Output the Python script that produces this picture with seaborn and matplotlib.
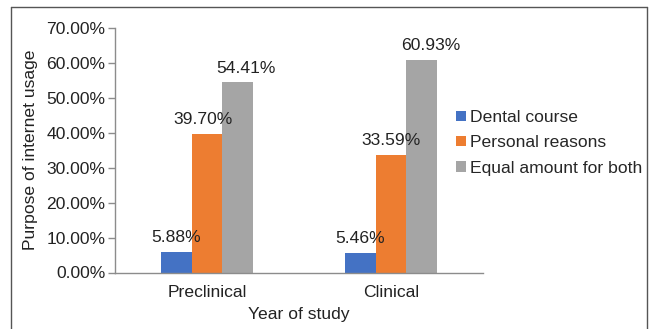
import matplotlib
matplotlib.use("Agg")
import matplotlib.pyplot as plt
from matplotlib.lines import Line2D
import seaborn as sns
import pandas as pd

years = ["Preclinical", "Clinical"]
purposes = ["Dental course", "Personal reasons", "Equal amount for both"]
dental_course = [5.88, 5.46]
personal_reasons = [39.70, 33.59]
equal_both = [54.41, 60.93]
palette = ["#4472C4", "#ED7D31", "#A5A5A5"]
# horizontal nudges (points) of the value labels, per series and year
label_nudge = [[0, 0], [-3, 0], [6, 6]]

rows = []
for series_name, vals in zip(purposes, [dental_course, personal_reasons, equal_both]):
    for yr, v in zip(years, vals):
        rows.append({"Year of study": yr, "Purpose": series_name, "Value": v})
df = pd.DataFrame(rows)

sns.set_style("white")
plt.rcParams["font.family"] = ["Liberation Sans", "DejaVu Sans"]
FS = 12.6

fig = plt.figure(figsize=(6.49, 3.29), dpi=100)
ax = fig.add_axes([115 / 649, 1 - 272.5 / 329, 368 / 649, (272.5 - 28) / 329])

sns.barplot(data=df, x="Year of study", y="Value", hue="Purpose",
            hue_order=purposes, order=years, palette=palette,
            width=0.505, gap=0, saturation=1, errorbar=None,
            linewidth=0, ax=ax)

for cont, nudges in zip(ax.containers, label_nudge):
    texts = ax.bar_label(cont, labels=[f"{v:.2f}%" for v in cont.datavalues],
                         padding=5, fontsize=FS, color="#222222")
    for t, dx in zip(texts, nudges):
        x0, y0 = t.xyann
        t.xyann = (x0 + dx, y0)

ax.set_ylim(0, 70)
ax.set_yticks(range(0, 71, 10))
ax.set_yticklabels([f"{t:.2f}%" for t in range(0, 71, 10)], fontsize=FS, color="#222222")
ax.set_xticklabels(years, fontsize=FS, color="#222222")
ax.set_xlim(-0.5, 1.5)

axis_col = "#8C8C8C"
for s in ["top", "right"]:
    ax.spines[s].set_visible(False)
for s in ["left", "bottom"]:
    ax.spines[s].set_color(axis_col)
    ax.spines[s].set_linewidth(1.0)
ax.tick_params(axis="y", which="major", length=5, width=1, color=axis_col, pad=2, left=True)
ax.tick_params(axis="x", length=0, pad=9)

ax.set_ylabel("Purpose of internet usage", fontsize=FS, color="#222222")
ax.set_xlabel("Year of study", fontsize=FS, color="#222222", labelpad=5)
ax.yaxis.set_label_coords(-0.21, 0.5)

ax.legend_.remove()
handles = [plt.Rectangle((0, 0), 1, 1, facecolor=c, edgecolor="none") for c in palette]
fig.legend(handles, purposes, loc="upper left", bbox_to_anchor=(444 / 649, 1 - 98 / 329),
           frameon=False, fontsize=FS, handlelength=0.55, handleheight=0.55,
           handletextpad=0.25, labelspacing=0.58, borderpad=0.2)

# outer frame around the chart area
frame_col = "#555555"
W, H = 649, 329
fig.add_artist(Line2D([11 / W, 11 / W], [0, 1 - 7 / H], transform=fig.transFigure, color=frame_col, lw=1))
fig.add_artist(Line2D([11 / W, 647 / W], [1 - 7 / H, 1 - 7 / H], transform=fig.transFigure, color=frame_col, lw=1))
fig.add_artist(Line2D([647 / W, 647 / W], [0, 1 - 7 / H], transform=fig.transFigure, color=frame_col, lw=1))

fig.savefig("out.png", dpi=100)
